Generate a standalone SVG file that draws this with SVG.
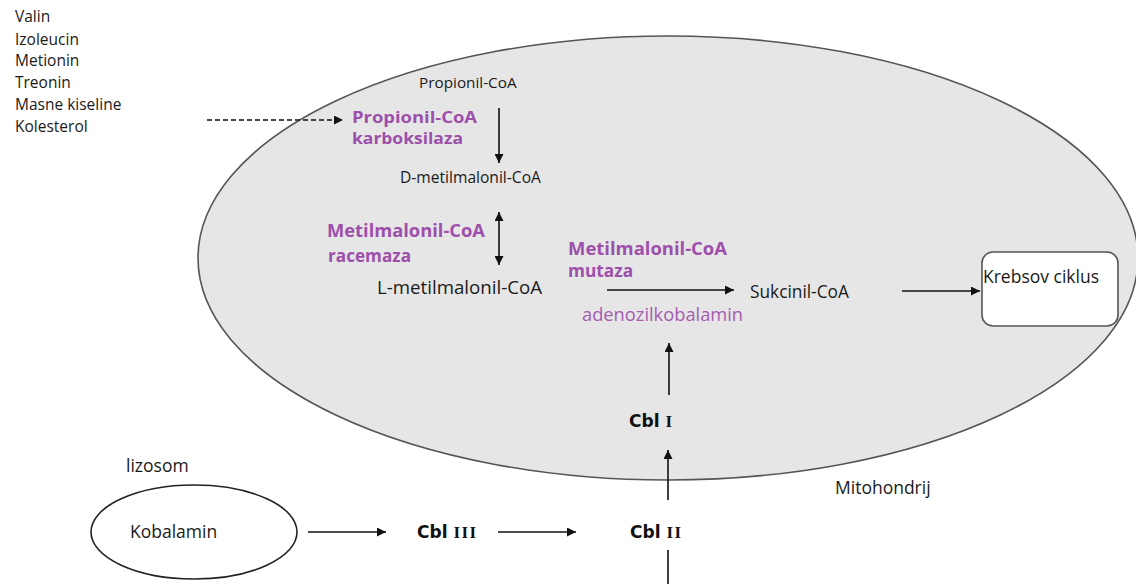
<svg xmlns="http://www.w3.org/2000/svg" width="1136" height="584" viewBox="0 0 1136 584">
<defs>
<style>
.t{font-family:"Open Sans","Liberation Sans",sans-serif;fill:#1a1a1a}
.p{font-family:"Open Sans","Liberation Sans",sans-serif;fill:#9d4fab;font-weight:bold}
.pn{font-family:"Open Sans","Liberation Sans",sans-serif;fill:#a55cb0}
.cbl{font-family:"DejaVu Sans",sans-serif;font-weight:bold;fill:#111}
.rn{font-family:"Liberation Serif",serif;font-weight:bold}
.ln{stroke:#111;stroke-width:1.6;fill:none}
</style>
<marker id="ah" viewBox="0 0 10 10" refX="10" refY="5" markerWidth="9" markerHeight="9" markerUnits="userSpaceOnUse" orient="auto-start-reverse">
<path d="M0,0 L10,5 L0,10 z" fill="#111"/>
</marker>
</defs>
<rect width="1136" height="584" fill="#fff"/>
<g id="mitohondrij">
<ellipse cx="668" cy="258" rx="470" ry="222" fill="#e6e6e6" stroke="#555" stroke-width="1.6"/>
<text class="t" x="835" y="494" font-size="17.5">Mitohondrij</text>
</g>
<g id="izvori">
<text class="t" x="15" y="22" font-size="15.5">Valin</text>
<text class="t" x="15" y="45" font-size="15.5">Izoleucin</text>
<text class="t" x="15" y="66" font-size="15.5">Metionin</text>
<text class="t" x="15" y="88" font-size="15.5">Treonin</text>
<text class="t" x="15" y="110" font-size="15.5">Masne kiseline</text>
<text class="t" x="15" y="132" font-size="15.5">Kolesterol</text>
</g>
<g id="propionil">
<text class="t" x="419" y="88" font-size="15.3">Propionil-CoA</text>
</g>
<g id="karboksilaza">
<text class="p" x="352" y="123" font-size="16.5" textLength="125" lengthAdjust="spacingAndGlyphs">Propionil-CoA</text>
<text class="p" x="352" y="144" font-size="16.5" textLength="111" lengthAdjust="spacingAndGlyphs">karboksilaza</text>
</g>
<g id="d-metilmalonil">
<text class="t" x="400" y="183" font-size="15.6">D-metilmalonil-CoA</text>
</g>
<g id="racemaza">
<text class="p" x="327" y="237" font-size="17.3" textLength="158" lengthAdjust="spacingAndGlyphs">Metilmalonil-CoA</text>
<text class="p" x="328" y="262" font-size="17.3" textLength="83" lengthAdjust="spacingAndGlyphs">racemaza</text>
</g>
<g id="l-metilmalonil">
<text class="t" x="377" y="294" font-size="18.7">L-metilmalonil-CoA</text>
</g>
<g id="mutaza">
<text class="p" x="568" y="255" font-size="17.3" textLength="159" lengthAdjust="spacingAndGlyphs">Metilmalonil-CoA</text>
<text class="p" x="568" y="277" font-size="17.3">mutaza</text>
<text class="pn" x="582" y="321" font-size="18.3">adenozilkobalamin</text>
</g>
<g id="sukcinil">
<text class="t" x="750" y="298" font-size="17.3">Sukcinil-CoA</text>
</g>
<g id="krebs">
<rect x="982" y="252" width="136" height="74" rx="11" fill="#fff" stroke="#555" stroke-width="1.6"/>
<text class="t" x="983" y="283" font-size="17.5">Krebsov ciklus</text>
</g>
<g id="cbl1">
<text class="cbl" x="629" y="427" font-size="17">Cbl <tspan class="rn">I</tspan></text>
</g>
<g id="lizosom">
<text class="t" x="126" y="472" font-size="17.5">lizosom</text>
<ellipse cx="194" cy="532" rx="103" ry="47" fill="none" stroke="#222" stroke-width="1.6"/>
<text class="t" x="130" y="538" font-size="17.5">Kobalamin</text>
</g>
<g id="cbl3">
<text class="cbl" x="417" y="538" font-size="17">Cbl <tspan class="rn" letter-spacing="1.5">III</tspan></text>
</g>
<g id="cbl2">
<text class="cbl" x="630" y="538" font-size="17">Cbl <tspan class="rn" letter-spacing="1.5">II</tspan></text>
</g>
<g id="connectors">
<line class="ln" x1="207" y1="120" x2="343" y2="120" stroke-dasharray="5,3" marker-end="url(#ah)"/>
<line class="ln" x1="499" y1="108" x2="499" y2="163" marker-end="url(#ah)"/>
<line class="ln" x1="499" y1="212" x2="499" y2="265" marker-start="url(#ah)" marker-end="url(#ah)"/>
<line class="ln" x1="607" y1="290" x2="734" y2="290" marker-end="url(#ah)"/>
<line class="ln" x1="902" y1="291" x2="980" y2="291" marker-end="url(#ah)"/>
<line class="ln" x1="669" y1="395" x2="669" y2="343" marker-end="url(#ah)"/>
<line class="ln" x1="668" y1="500" x2="668" y2="450" marker-end="url(#ah)"/>
<line class="ln" x1="668" y1="550" x2="668" y2="584"/>
<line class="ln" x1="308" y1="532" x2="386" y2="532" marker-end="url(#ah)"/>
<line class="ln" x1="498" y1="532" x2="576" y2="532" marker-end="url(#ah)"/>
</g>
</svg>
